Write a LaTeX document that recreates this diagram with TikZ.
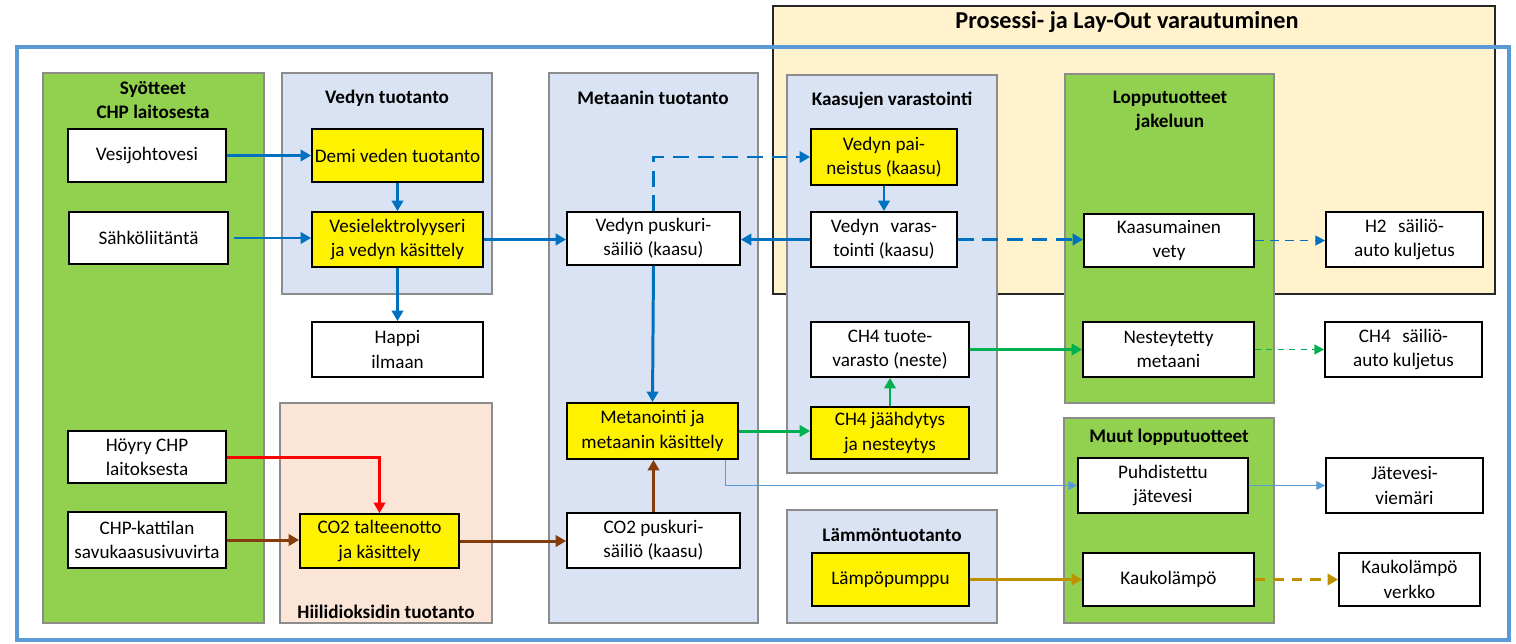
\documentclass[tikz,border=0pt]{standalone}
\usepackage{fontspec}
\setmainfont{Carlito}
\usetikzlibrary{arrows.meta,calc}
\definecolor{pgreen}{HTML}{92D050}
\definecolor{pblue}{HTML}{DAE3F3}
\definecolor{ppeach}{HTML}{FBE5D6}
\definecolor{pcream}{HTML}{FFF2CC}
\definecolor{pborder}{HTML}{8C8C8C}
\definecolor{frameblue}{HTML}{5B9BD5}
\definecolor{ablue}{HTML}{0070C0}
\definecolor{agreen}{HTML}{00B050}
\definecolor{abrown}{HTML}{843C0C}
\definecolor{agold}{HTML}{BF9000}
\definecolor{ared}{HTML}{FF0000}
\newcommand\mkbox[7]{\node[#2, minimum width={(#5-#3)*0.02cm}, minimum height={(#6-#4)*0.02cm}] (#1) at ({(#3+#5)/2},{(#4+#6)/2}) {#7};}
\newcommand\mkpanel[6]{\mkbox{#1}{panel, fill=#2}{#3}{#4}{#5}{#6}{}}
\begin{document}
\begin{tikzpicture}[x=0.02cm, y=-0.02cm,
  font=\fontsize{10.9}{13.8}\selectfont,
  panel/.style={draw=pborder, line width=1pt, inner sep=0pt},
  box/.style={draw=black, fill=white, line width=1pt, inner sep=0pt, align=center},
  ybox/.style={box, fill=yellow},
  ttl/.style={font=\fontsize{10.9}{13.8}\selectfont\bfseries, align=center, inner sep=0pt},
  arr/.style={line width=1.7pt, -{Triangle[length=6pt,width=6.5pt]}},
  tarr/.style={line width=0.6pt, -{Triangle[length=5pt,width=5pt]}},
  ldash/.style={dash pattern=on 9pt off 5pt},
]
\useasboundingbox (0,0) rectangle (1516,643);
% process panel
\mkbox{ppro}{draw=black!85, line width=1.2pt, fill=pcream, inner sep=0pt}{773}{6}{1495}{294}{}
\node[ttl, font=\fontsize{13.8}{16}\selectfont\bfseries] (tpro) at (1127,22) {Prosessi- ja Lay-Out varautuminen};
% blue frame
\mkbox{frame}{draw=frameblue, line width=2.4pt, inner sep=0pt}{17}{47}{1509}{640}{}
% panels
\mkpanel{psyo}{pgreen}{43}{73}{264}{623}
\mkpanel{pved}{pblue}{282}{73}{492}{294}
\mkpanel{phii}{ppeach}{280}{403}{492}{623}
\mkpanel{pmet}{pblue}{549}{73}{758}{623}
\mkpanel{pkaa}{pblue}{787}{75}{997}{473}
\mkpanel{plam}{pblue}{787}{510}{997}{623}
\mkpanel{plop}{pgreen}{1065}{74}{1274}{403}
\mkpanel{pmuu}{pgreen}{1064}{418}{1274}{623}
% titles
\node[ttl] (tsyo) at (153,100) {Syötteet\\CHP laitosesta};
\node[ttl] (tved) at (387,98) {Vedyn tuotanto};
\node[ttl] (tmet) at (653,98) {Metaanin tuotanto};
\node[ttl] (tkaa) at (892,100) {Kaasujen varastointi};
\node[ttl] (tlop) at (1170,111) {Lopputuotteet\\jakeluun};
\node[ttl] (thii) at (386,612) {Hiilidioksidin tuotanto};
\node[ttl] (tlam) at (892,535) {Lämmöntuotanto};
\node[ttl] (tmuu) at (1169,437) {Muut lopputuotteet};
% boxes
\mkbox{vesi}{box}{68}{129}{226}{182}{Vesijohtovesi}
\mkbox{sahko}{box}{69}{212}{228}{264}{Sähköliitäntä}
\mkbox{hoyry}{box}{68}{431}{226}{483}{Höyry CHP\\laitoksesta}
\mkbox{chpk}{box}{68}{512}{226}{568}{CHP-kattilan\\savukaasusivuvirta}
\mkbox{demi}{ybox}{312}{129}{483}{182}{Demi veden tuotanto}
\mkbox{elek}{ybox}{312}{212}{483}{267}{Vesielektrolyyseri\\ja vedyn käsittely}
\mkbox{happi}{box}{312}{322}{483}{377}{Happi\\ilmaan}
\mkbox{co2t}{ybox}{300}{514}{459}{568}{CO2 talteenotto\\ja käsittely}
\mkbox{pusk}{box}{567}{212}{740}{265}{Vedyn puskuri-\\säiliö (kaasu)}
\mkbox{meta}{ybox}{567}{403}{738}{459}{Metanointi ja\\metaanin käsittely}
\mkbox{co2p}{box}{567}{513}{740}{568}{CO2 puskuri-\\säiliö (kaasu)}
\mkbox{pain}{ybox}{811}{129}{957}{185}{Vedyn pai-\\neistus (kaasu)}
\mkbox{vvar}{box}{811}{212}{957}{267}{Vedyn\hspace{0.6em}varas-\\tointi (kaasu)}
\mkbox{ch4v}{box}{811}{322}{969}{377}{CH4 tuote-\\varasto (neste)}
\mkbox{jaah}{ybox}{811}{407}{969}{459}{CH4 jäähdytys\\ja nesteytys}
\mkbox{lamp}{ybox}{812}{553}{969}{606}{Lämpöpumppu}
\mkbox{kvety}{box}{1084}{214}{1254}{267}{Kaasumainen\\vety}
\mkbox{nest}{box}{1083}{322}{1254}{377}{Nesteytetty\\metaani}
\mkbox{puhd}{box}{1078}{458}{1248}{513}{Puhdistettu\\jätevesi}
\mkbox{kauk}{box}{1083}{553}{1254}{606}{Kaukolämpö}
\mkbox{h2}{box}{1326}{212}{1483}{267}{H2\hspace{0.6em}säiliö-\\auto kuljetus}
\mkbox{ch4s}{box}{1325}{322}{1482}{377}{CH4\hspace{0.6em}säiliö-\\auto kuljetus}
\mkbox{jatev}{box}{1326}{458}{1483}{513}{Jätevesi-\\viemäri}
\mkbox{kverk}{box}{1339}{553}{1480}{606}{Kaukolämpö\\verkko}
% connectors
\coordinate (sahkoout) at ($(sahko.east)+(5,0)$);
\coordinate (metaout) at ($(meta.south east)+(-13,0)$);
\draw[arr, ablue] (vesi.east) -- (demi.west);
\draw[arr, ablue] (sahkoout) -- (sahkoout -| elek.west);
\draw[arr, ablue] (demi.south) -- (elek.north);
\draw[arr, ablue] (elek.south) -- (happi.north);
\draw[arr, ablue] (elek.east) -- (elek.east -| pusk.west);
\draw[arr, ablue] (vvar.west) -- (vvar.west -| pusk.east);
\draw[arr, ablue, ldash] (pusk.north) |- (pain.west);
\draw[arr, ablue] (pain.south) -- (vvar.north);
\draw[arr, ablue, ldash] (vvar.east) -- (vvar.east -| kvety.west);
\draw[line width=1pt, -{Triangle[length=5.5pt,width=5.5pt]}, ablue, dash pattern=on 5pt off 3.5pt] (kvety.east) -- (kvety.east -| h2.west);
\draw[arr, ablue] (pusk.south) -- (meta.north);
\draw[arr, abrown] (co2p.north) -- (meta.south -| co2p.north);
\draw[arr, abrown] (co2t.east) -- (co2t.east -| co2p.west);
\draw[arr, abrown] (chpk.east) -- (chpk.east -| co2t.west);
\draw[arr, ared] (hoyry.east) -| (co2t.north);
\draw[arr, agreen] (meta.east) -- (meta.east -| jaah.west);
\draw[arr, agreen] (jaah.north) -- (ch4v.south);
\draw[arr, agreen] (ch4v.east) -- (ch4v.east -| nest.west);
\draw[line width=1.1pt, -{Triangle[length=5.5pt,width=5.5pt]}, agreen, dash pattern=on 3.5pt off 3pt] (nest.east) -- (nest.east -| ch4s.west);
\draw[tarr, frameblue] (metaout) |- (puhd.west);
\draw[tarr, frameblue] (puhd.east) -- (jatev.west);
\draw[arr, agold] (lamp.east) -- (lamp.east -| kauk.west);
\draw[arr, agold, dash pattern=on 6pt off 4.5pt] (kauk.east) -- (kauk.east -| kverk.west);
\end{tikzpicture}
\end{document}
